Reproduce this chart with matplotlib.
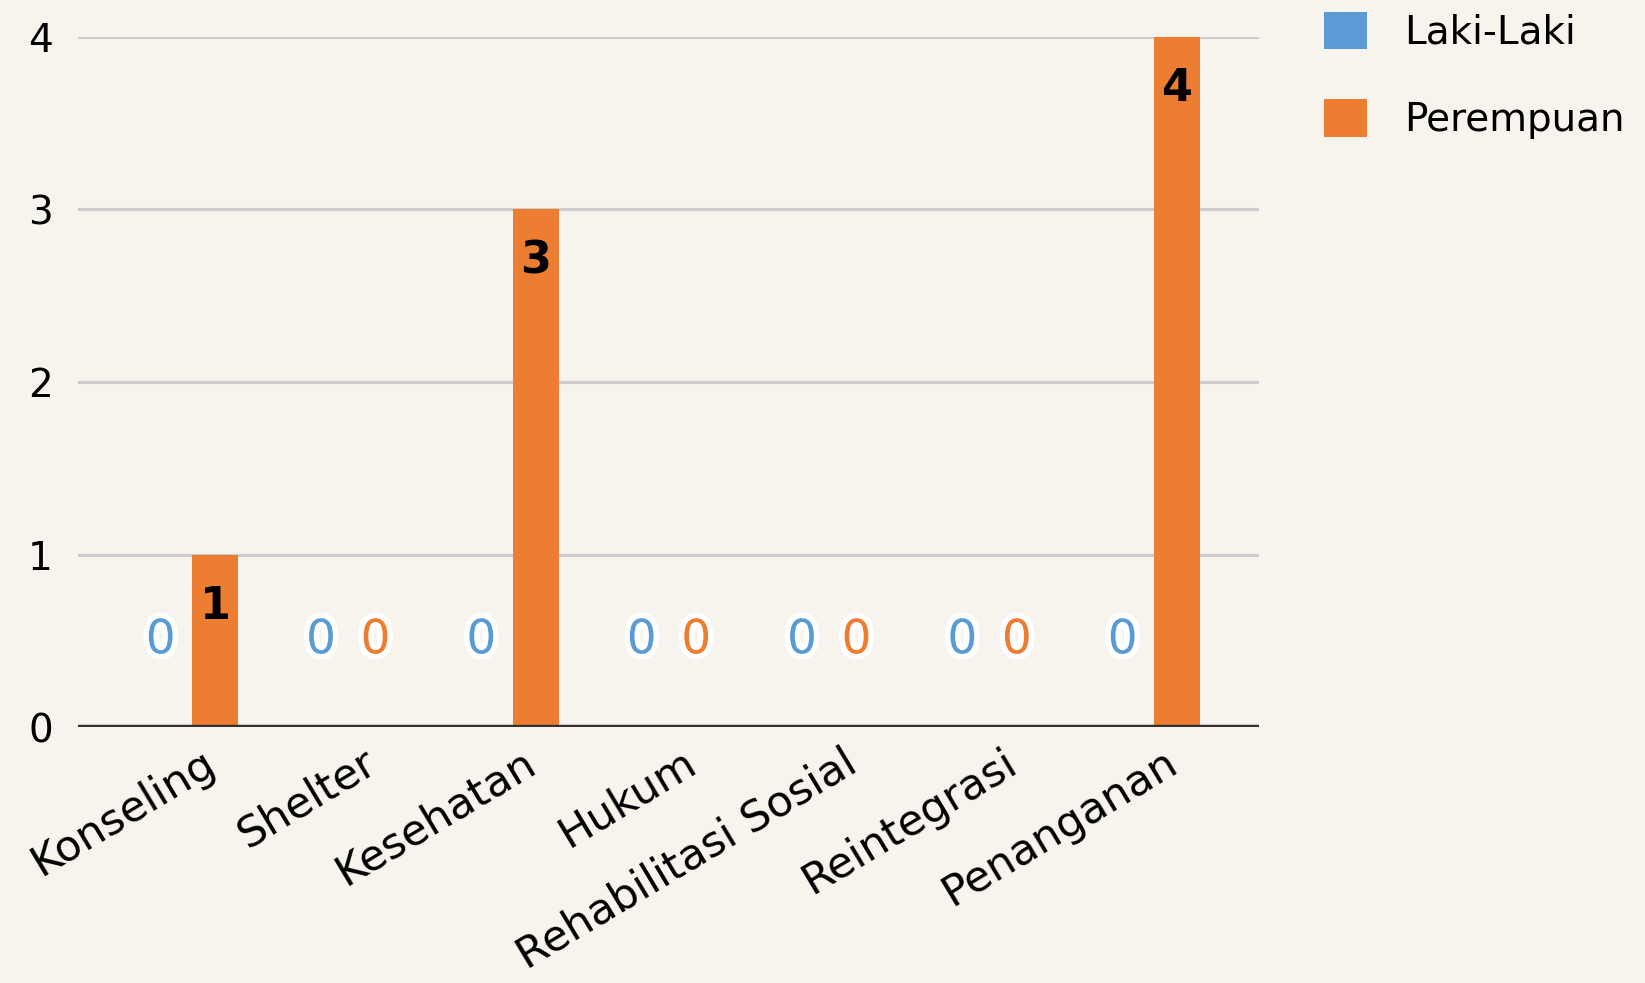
# Bar chart: layanan per jenis kelamin
import numpy as np
import matplotlib.pyplot as plt
import matplotlib.patheffects as pe
from matplotlib.transforms import ScaledTranslation

# Data
categories = ['Konseling', 'Shelter', 'Kesehatan', 'Hukum',
              'Rehabilitasi Sosial', 'Reintegrasi', 'Penanganan']
laki = [0, 0, 0, 0, 0, 0, 0]
perempuan = [1, 0, 3, 0, 0, 0, 4]
series_names = ['Laki-Laki', 'Perempuan']
y_ticks = [0, 1, 2, 3, 4]

blue = '#5b9bd5'
orange = '#ed7d31'
bg = '#f6f4ec'

plt.rcParams['font.family'] = ['DejaVu Sans']

fig = plt.figure(figsize=(16.45, 9.83), dpi=100, facecolor=bg)
ax = fig.add_axes([0.0474, 0.2604, 0.7179, 0.702])
ax.set_facecolor(bg)

x = np.arange(len(categories))
w = 0.29
off = 0.17

b1 = ax.bar(x - off, laki, w, color=blue, label=series_names[0], zorder=3)
b2 = ax.bar(x + off, perempuan, w, color=orange, label=series_names[1], zorder=3)

# value labels
for vals, xs, col in [(laki, x - off, blue), (perempuan, x + off, orange)]:
    for xi, v in zip(xs, vals):
        if v == 0:
            ax.text(xi, 0.5, str(v), color=col, fontsize=34,
                    ha='center', va='center', zorder=5,
                    path_effects=[pe.withStroke(linewidth=8, foreground='white')])
        else:
            ax.text(xi, v - 0.3, str(v), color='black', fontsize=32, fontweight='bold',
                    ha='center', va='center', zorder=5)

ax.set_xlim(-0.686, 6.68)
ax.set_ylim(0, 4)
ax.set_yticks(y_ticks)
ax.set_yticklabels([str(t) for t in y_ticks], fontsize=28)
ax.yaxis.grid(True, color='#cccccc', linewidth=2.2, zorder=0)
ax.axhline(0, color='#333333', linewidth=3.2, zorder=4)
ax.tick_params(axis='y', length=0, pad=18)
ax.tick_params(axis='x', length=0, pad=6)

ax.set_xticks(x)
ax.set_xticklabels(categories, fontsize=31, rotation=31, ha='right',
                   rotation_mode='anchor', va='center')
for lab in ax.get_xticklabels():
    lab.set_transform(lab.get_transform() + ScaledTranslation(0.24, -0.24, fig.dpi_scale_trans))

for s in ax.spines.values():
    s.set_visible(False)

fig.legend(handles=[b1, b2], labels=series_names, loc='upper left',
           bbox_to_anchor=(1324 / 1645, 1 - 12 / 983), frameon=False, fontsize=28,
           handlelength=1.1, handleheight=1.1, handletextpad=0.95,
           labelspacing=1.22, borderpad=0, borderaxespad=0)

plt.savefig('out.png', dpi=100, facecolor=bg)
